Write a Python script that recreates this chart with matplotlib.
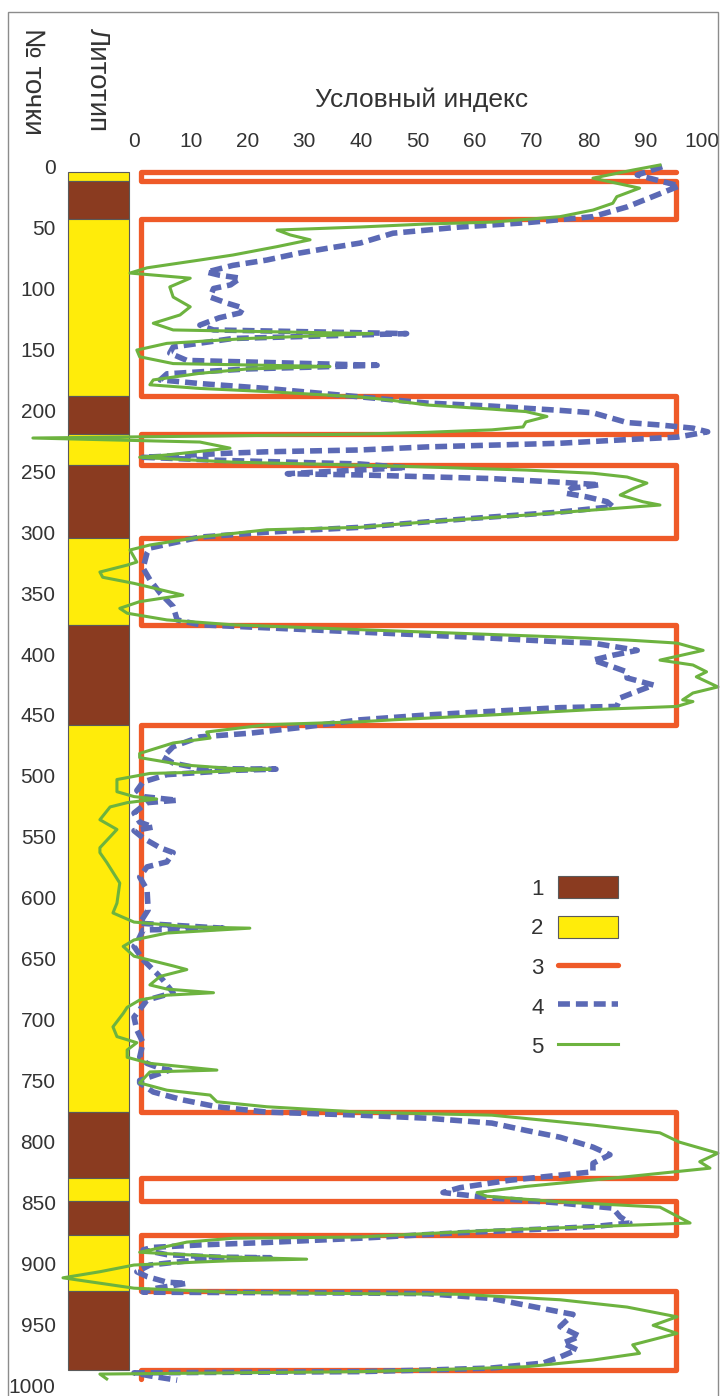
import matplotlib.pyplot as plt
from matplotlib.patches import Rectangle
import numpy as np

plt.rcParams['font.family'] = ['Liberation Sans', 'DejaVu Sans']

text_color = '#333333'
brown = '#8A3B20'
yellow = '#FFEC0A'
red = '#EF5A28'
blue = '#5B69B5'
green = '#6DB33F'

# lithology column (point numbers), 1 - brown, 2 - yellow
layer_top = [4, 12, 43, 188, 219, 245, 305, 376, 458, 776, 830, 849, 877, 923]
layer_bottom = [12, 43, 188, 219, 245, 305, 376, 458, 776, 830, 849, 877, 923, 988]
layer_type = [2, 1, 2, 1, 2, 1, 2, 1, 2, 1, 2, 1, 2, 1]

# curve 3: two-level index following the lithology
curve3_low = 1.3
curve3_high = 95.4
curve3_end = 995

# curve 4 (dashed)
curve4_depth = [0, 6.8, 15.8, 33, 41, 46, 49.5, 54.6, 62.7, 67, 71, 76.6, 81, 86.5, 89, 91.5,
                97, 100, 107, 112, 116, 120, 124, 130, 134, 137, 141, 148, 153, 159, 163, 166,
                170, 175, 178, 182, 189, 194, 196.5, 200, 202, 206, 210, 212, 214.6, 217.6, 222,
                224, 227, 228.5, 230, 232.5, 234, 235, 238.5, 241, 244, 247, 250, 252, 253,
                254.5, 256, 259, 261, 264, 268, 271, 275, 279, 283.5, 287.5, 291.5, 296, 300,
                304, 313, 317, 329.5, 339, 350, 361, 372, 376, 382, 384.5, 387, 390, 391, 397,
                401, 405, 410.5, 414.7, 419.6, 425.5, 432, 436, 443, 444, 447, 450, 454, 460.5,
                465, 468, 476, 484.6, 489.5, 494, 494.5, 495.5, 499, 505, 512, 517, 520, 522,
                530.5, 538, 542, 545, 551, 559, 563, 570.6, 574.7, 583, 593.5, 610, 621, 625,
                626.5, 637, 640, 651, 662, 667.6, 678, 684, 692, 698, 708.6, 719, 731, 736, 740,
                741.5, 750, 752, 759.5, 766, 771.6, 776, 778.5, 781, 785, 791, 796.6, 804.7,
                811, 818, 825, 827.7, 832, 838, 842, 846.5, 850.6, 854.8, 862, 867, 870, 872.6,
                875, 879.5, 883, 885, 887, 889, 893, 895, 895.5, 897, 901.5, 907, 911, 915.6,
                916.5, 920.5, 923.8, 924.5, 925, 929, 934.5, 940, 942, 952, 960, 965.6, 971,
                977, 982, 986, 987.7, 989, 990, 992.5, 996]
curve4_value = [93, 88.6, 96, 86.8, 80.8, 69, 57.4, 45.6, 39.8, 34, 29, 23.4, 17.4, 12.8, 15, 18.7,
                17, 14, 13.4, 16.4, 19.2, 18.7, 15, 11.6, 14, 48, 17.4, 6.9, 6.3, 9.3, 42.8, 20,
                5.8, 4.6, 11.6, 23.4, 40, 51.6, 63, 75, 80.8, 83.8, 86.8, 92.6, 98.4, 101, 95.6,
                86.8, 75, 63, 51.6, 39.8, 23.4, 17.4, 1.6, 15, 39.8, 48, 35, 27, 39.8,
                51.6, 63, 75, 82, 77, 76, 79.7, 83.3, 84.3, 75, 63, 51.6, 39.8, 23.4,
                11.6, 2.8, 2.3, 1.6, 2.8, 4.6, 6.9, 7.6, 11.6, 40, 51.6, 63, 75, 80.8, 88.6,
                84.3, 80.8, 84.3, 86.8, 86.8, 91.5, 87.8, 85.6, 85, 75, 63, 51.6, 39.8, 29,
                20.4, 11.6, 6.9, 5.1, 6.9, 11.6, 25, 17.4, 5.8, 1.6, 0.5, 1.6, 7.6, 2.3,
                0, 1, 3.4, 0, 1.6, 4.6, 6.9, 5.8, 2.3, 1, 2.3, 2.5, 1, 15.7,
                1.6, 0.5, 0, 1.6, 4, 5.1, 6.9, 2.3, 1, 0, 0.5, 1.6, 1, 2.3, 4.6,
                6.3, 1, 1, 3.4, 8.6, 14.6, 23.4, 39.8, 51.6, 63, 69, 75, 80.8,
                83.8, 80.8, 80.8, 75, 66, 57.4, 54.4, 63, 75, 84.3, 85.6, 87.3, 80.8, 69,
                57.4, 39.8, 23.4, 11.6, 3.4, 1.6, 5.8, 14.6, 24, 11.6, 2.8, 0.5, 2.3, 5.8,
                9.3, 4, 1.6, 39.8, 51.6, 63, 69, 75, 77.3, 75, 78.5, 75.5, 78,
                75, 72, 63, 51.6, 39.8, 0, 2.8, 7.6]

# curve 5 (solid)
curve5_depth = [-1.4, 2.7, 9.4, 17.6, 24.6, 30, 35.6, 41, 45.5, 47, 49.5, 52, 56, 60, 65.6, 72.5,
                76.6, 83, 87.3, 91.5, 98.7, 107, 115, 121.7, 128.5, 134, 137, 141, 145, 150.5,
                156, 161.6, 164, 166, 169.6, 175, 179, 182, 184.6, 189, 191.5, 195.6, 199, 201,
                205, 209.5, 213.6, 216, 218, 219.5, 221, 222.7, 226, 231, 236.6, 238.5, 242.5,
                245, 246.5, 249, 251.6, 254.7, 259.7, 264, 269.5, 275, 277.7, 281.8, 286, 291.5,
                296, 298, 304, 310.5, 314.6, 324.5, 327, 332.7, 337, 342, 351.6, 357, 362.5,
                366.5, 372, 376, 380, 383, 386, 388.5, 391, 397, 405, 409, 414.6, 418.7, 427,
                432, 437.6, 439, 443, 445.6, 450, 454, 455.6, 458, 464, 469, 473, 481.6, 485,
                491, 494, 494.5, 497, 498, 503, 513, 517, 519, 522, 525.5, 536, 544, 550, 559,
                563, 571, 588, 604.5, 612.5, 620, 624, 625, 629, 634.7, 640, 648, 656, 659,
                664.6, 671.6, 675, 678, 680, 684, 690, 695, 706, 714, 719, 725, 731, 736, 741.5,
                743, 752, 758, 762, 767.5, 771.6, 776, 778.5, 786.6, 793, 800.6, 809.7, 816.7,
                822, 829, 837, 842, 845, 849.7, 854, 867, 870, 873, 878.5, 879.5, 882.7, 891,
                895, 896.7, 898, 899, 901.5, 907, 912, 920.5, 924, 925, 925.5, 930, 936, 944,
                951, 957.6, 967, 974, 979.5, 985, 987.7, 989, 991, 995]
curve5_value = [92.6, 87.9, 80.8, 89, 85, 84.3, 80.8, 75, 63, 51.6, 39.8, 25.2, 27.5, 31, 25.2, 17.4,
                11.6, 2.3, -0.7, 9.9, 6.3, 6.9, 9.9, 8.1, 3.4, 6.9, 42, 20, 5.8, 0.5,
                1, 6.9, 34.5, 20, 11.6, 3.4, 2.8, 11.6, 23.4, 39.8, 45, 51.6, 63, 69,
                72.7, 69, 68.5, 63, 51.6, 39.8, 15, -17.8, 11.6, 16.9, 5.8, 1, 17.4,
                39.8, 51.6, 69, 80.8, 86.8, 90.3, 88, 85.6, 89.6, 92.6, 80.8, 69, 51.6,
                39.8, 23.4, 11.6, 2.8, -0.7, 0.5, -1.2, -6, -5.5, 0, 8.6, 1, -2.5,
                -1.2, 5.8, 17.4, 39.8, 57.4, 75, 86.8, 95.6, 100.2, 92.6, 98.4, 100.8, 99, 102.8,
                98.4, 96.6, 98.4, 95.6, 80.8, 63, 45.6, 39.8, 23.4, 12.8, 13.4, 6.9, 1, 1,
                8.6, 17.4, 24, 11.6, 2.8, -3, -3, 0, 4, -1.2, -4.2, -6, -3, -4.2, -6,
                -6, -4.8, -2.5, -3, -3.7, 0, 10, 20.4, 5.8, 0, -1.9, 0, 6.9, 9.3,
                4.6, 2.8, 5.8, 14, 5.8, 1, -1.2, -1.9, -3.7, -3, 0.5, -1.2, -1.2, 2.8, 14.6,
                2.8, 1, 5.8, 13.4, 14.6, 23.4, 39.8, 63, 80.8, 92.6, 96, 102.8, 99.6,
                101.4, 86.8, 69, 60.4, 62, 75, 92.6, 97.9, 80.8, 63, 39.8, 17.4, 9.3, 1,
                17, 30.4, 17, 11.6, 0, -6, -12.5, 0, 17.4, 39.8, 57.4, 75, 86.8, 95.6,
                91.4, 95.6, 87.8, 89, 80.8, 69, 51.6, 39.8, -6, -4.8]

x_ticks = list(range(0, 101, 10))
y_ticks = list(range(0, 1001, 50))

# build curve 3 as a step line over the layers
curve3_x = [curve3_high]
curve3_y = [layer_top[0]]
for t, b, k in zip(layer_top, layer_bottom, layer_type):
    v = curve3_high if k == 1 else curve3_low
    curve3_x += [v, v]
    curve3_y += [t, b]
curve3_x += [curve3_low, curve3_low]
curve3_y += [layer_bottom[-1], curve3_end]

fig = plt.figure(figsize=(7.2, 13.96), dpi=100)
ax = fig.add_axes([64 / 720, 0, (712 - 64) / 720, (1396 - 155) / 1396])
ax.set_xlim(-12.32, 101.76)
ax.set_ylim(1009, -9.6)

# lithology column
heights = np.array(layer_bottom) - np.array(layer_top)
colors = [brown if k == 1 else yellow for k in layer_type]
bars = ax.bar(-6.25, heights, bottom=layer_top, width=10.74, color=colors,
              edgecolor='#5a5a5a', linewidth=0.8, zorder=1)

line3, = ax.plot(curve3_x, curve3_y, color=red, lw=3.8, solid_joinstyle='round',
                 solid_capstyle='round', clip_on=False, zorder=2)
line4, = ax.plot(curve4_value, curve4_depth, color=blue, lw=4, ls=(0, (2.15, 1.07)),
                 dash_capstyle='butt', dash_joinstyle='round', clip_on=False, zorder=3)
line5, = ax.plot(curve5_value, curve5_depth, color=green, lw=2.2, solid_joinstyle='round',
                 clip_on=False, zorder=4)

ax.set_xticks(x_ticks)
ax.set_yticks(y_ticks)
ax.xaxis.tick_top()
ax.tick_params(axis='both', length=0, labelsize=15, labelcolor=text_color)
ax.tick_params(axis='x', pad=3)
ax.tick_params(axis='y', pad=6)
for s in ax.spines.values():
    s.set_visible(False)

fig.text(422 / 720, 1 - 100 / 1396, 'Условный индекс', ha='center', va='center',
         fontsize=19, color=text_color)
fig.text(32 / 720, 1 - 28 / 1396, '№ точки', rotation=-90, ha='center', va='top',
         fontsize=20, color=text_color)
fig.text(97 / 720, 1 - 28 / 1396, 'Литотип', rotation=-90, ha='center', va='top',
         fontsize=20, color=text_color)

fig.legend([bars[1], bars[0], line3, line4, line5], ['1', '2', '3', '4', '5'],
           loc='upper left', bbox_to_anchor=(531 / 720, 1 - 876 / 1396), frameon=False,
           markerfirst=False, handlelength=2.7, handleheight=1.17, handletextpad=0.64,
           labelspacing=0.72, borderpad=0, borderaxespad=0, fontsize=16, labelcolor=text_color)

# frame around the picture
fig.add_artist(Rectangle((8 / 720, -0.01), 710 / 720, 1.01 - 12 / 1396, transform=fig.transFigure,
                         fill=False, edgecolor='#8c8c8c', lw=1))

fig.savefig('out.png', dpi=100)
